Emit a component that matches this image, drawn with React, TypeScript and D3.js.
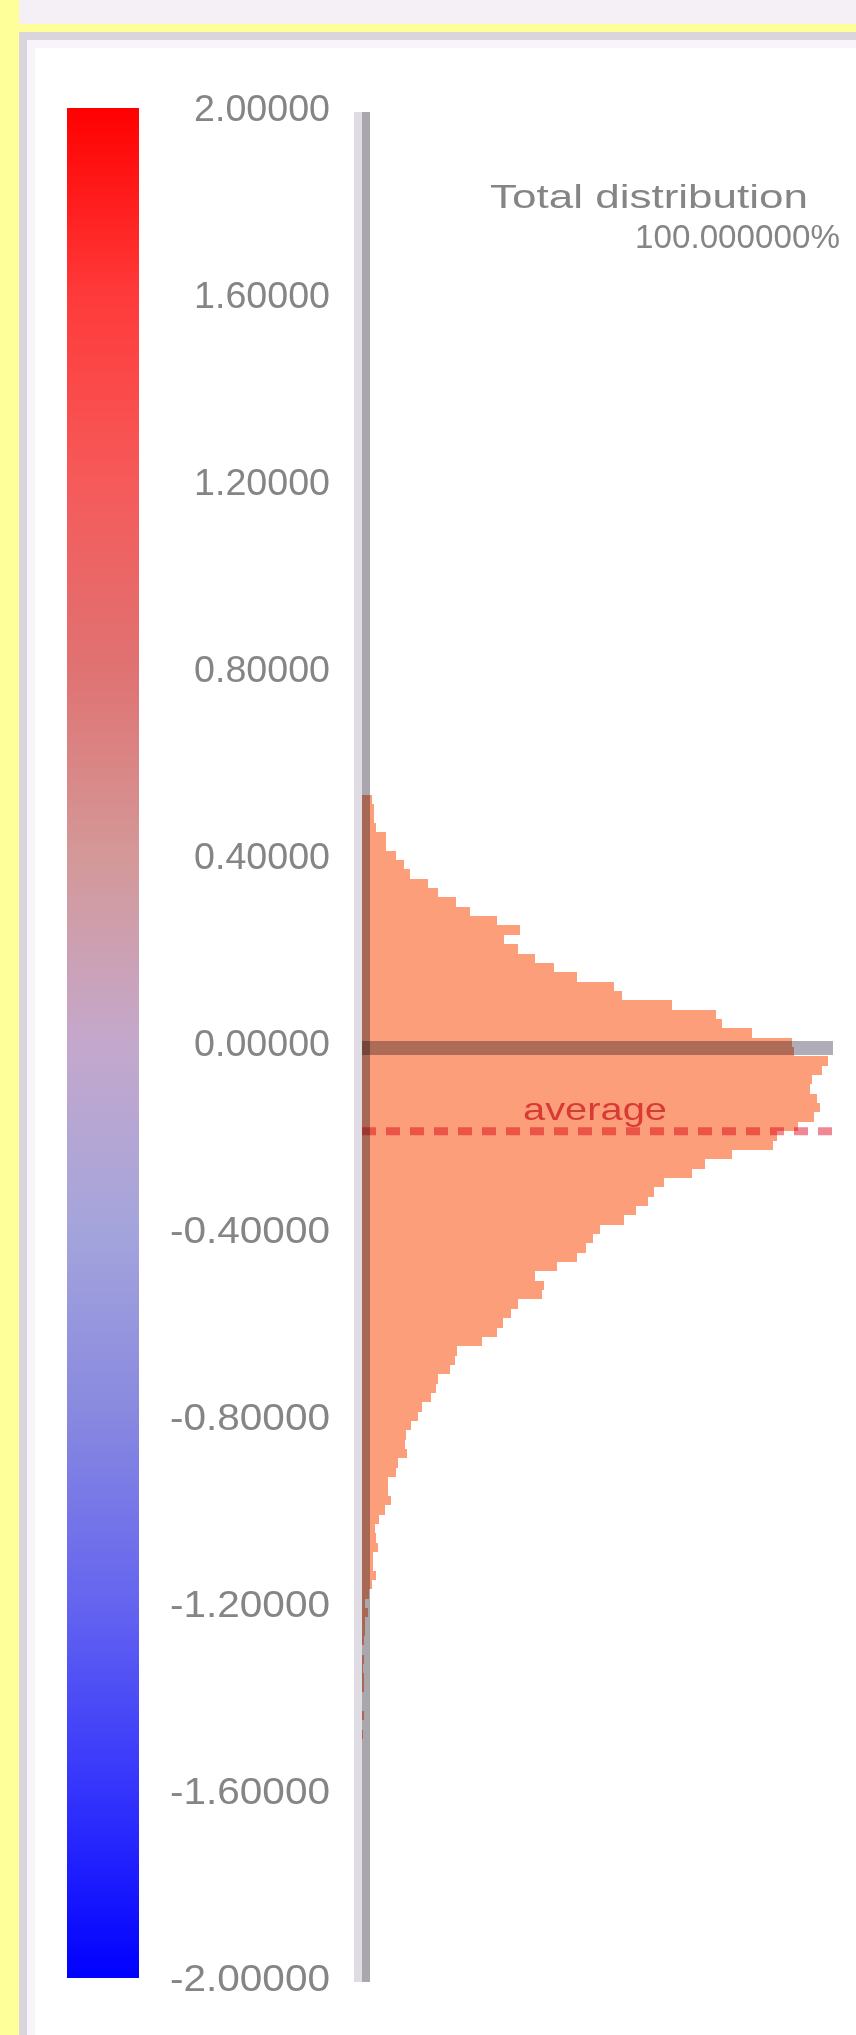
import React from 'react'
import * as d3 from 'd3'

// colour bar ticks (value axis, top to bottom)
const tickValues = [2, 1.6, 1.2, 0.8, 0.4, 0, -0.4, -0.8, -1.2, -1.6, -2]
// colour bar stops
const stopValues = [2, 1.6, 1.2, 0.8, 0.4, 0, -0.4, -0.8, -1.2, -1.6, -2]
const stopColors = ['#ff0000', '#ff3a3a', '#f65a5a', '#e07272', '#d49898', '#c4a8cc', '#a4a4dc', '#8888e0', '#6464f0', '#3434fc', '#0000ff']

// histogram: bins of 0.02, first bin tops at 0.54
const binStart = 0.54
const binWidth = 0.02
const binCounts = [
  10, 12, 12, 14, 24, 24, 34, 42, 48, 66,
  76, 94, 108, 135, 158, 142, 156, 173, 192, 215,
  252, 260, 310, 354, 360, 390, 430, 432, 466, 460,
  450, 448, 455, 458, 452, 436, 415, 411, 370, 343,
  330, 302, 292, 286, 274, 262, 238, 231, 224, 215,
  195, 173, 182, 180, 156, 149, 141, 135, 120, 95,
  93, 88, 76, 74, 69, 60, 56, 49, 44, 43,
  45, 36, 34, 26, 26, 29, 23, 17, 13, 14,
  16, 11, 11, 14, 10, 7, 3, 6, 3, 3,
  2, 0, 2, 1, 2, 2, 0, 0, 2, 0,
  1,
]
const averageValue = -0.18
const titleText = 'Total distribution'
const percentText = '100.000000%'

const W = 856
const H = 2035

function App() {
  const y = d3.scaleLinear().domain([-2, 2]).range([1982, 112])
  const axisX = 362
  const x = d3.scaleLinear().domain([0, 470]).range([axisX, 832])
  const fmt = d3.formatLocale({ decimal: '.', thousands: ',', grouping: [3], currency: ['', ''], minus: '-' }).format('.5f')

  const bins = binCounts.map((c, i) => {
    const hi = binStart - i * binWidth
    return { hi, lo: hi - binWidth, c }
  })

  const labelFont = "'Liberation Sans', Arial, sans-serif"

  return (
    <svg width={W} height={H} style={{ position: 'absolute', left: 0, top: 0 }} fontFamily={labelFont}>
      <defs>
        <linearGradient id="cbar" x1="0" y1="0" x2="0" y2="1">
          {stopValues.map((v, i) => (
            <stop key={i} offset={(2 - v) / 4} stopColor={stopColors[i]} />
          ))}
        </linearGradient>
      </defs>
      <rect width={W} height={H} fill="#fff" />

      {/* window frame */}
      <rect x={0} y={0} width={W} height={24} fill="#f4f0f5" />
      <rect x={0} y={24} width={W} height={8} fill="#ffff99" />
      <rect x={0} y={0} width={19} height={H} fill="#ffff99" />
      <rect x={19} y={32} width={W} height={8} fill="#d9d5dd" />
      <rect x={19} y={40} width={W} height={8} fill="#f8f4fa" />
      <rect x={19} y={32} width={8} height={H} fill="#d9d5dd" />
      <rect x={27} y={40} width={8} height={H} fill="#f8f4fa" />

      {/* colour bar */}
      <rect x={67} y={y(2) - 4} width={72} height={y(-2) - y(2)} fill="url(#cbar)" />
      <g fill="#858585" fontSize={36}>
        {tickValues.map(v => {
          const t = fmt(v)
          return (
            <text key={v} x={330} y={y(v) - 4} dy="0.36em" textAnchor="end"
              textLength={t.startsWith('-') ? 160 : 136} lengthAdjust="spacingAndGlyphs">{t}</text>
          )
        })}
      </g>

      {/* histogram */}
      <g shapeRendering="crispEdges">
        {bins.map((b, i) => (
          <rect key={i} x={axisX} y={y(b.hi)} width={x(b.c) - axisX} height={y(b.lo) - y(b.hi)} fill="#fc9e7a" />
        ))}
      </g>

      {/* value axis */}
      <rect x={354} y={y(2)} width={8} height={y(-2) - y(2)} fill="#e0dce4" style={{ mixBlendMode: 'multiply' }} />
      <rect x={362} y={y(2)} width={8} height={y(-2) - y(2)} fill="#aaa6ae" style={{ mixBlendMode: 'multiply' }} />

      {/* zero line */}
      <line x1={axisX} x2={833} y1={y(0) + 1} y2={y(0) + 1} stroke="#b0acb8" strokeWidth={14} style={{ mixBlendMode: 'multiply' }} />

      {/* average */}
      <line x1={axisX} x2={840} y1={y(averageValue)} y2={y(averageValue)} stroke="#ee8894" strokeWidth={8}
        strokeDasharray="14 10" style={{ mixBlendMode: 'multiply' }} />
      <text x={595} y={y(averageValue) - 23} dy="0.36em" textAnchor="middle" fill="#d83a35" fontSize={32}
        textLength={144} lengthAdjust="spacingAndGlyphs">average</text>

      {/* title */}
      <text x={490} y={196} dy="0.36em" fill="#858585" fontSize={34} textLength={318} lengthAdjust="spacingAndGlyphs">{titleText}</text>
      <text x={635} y={236} dy="0.36em" fill="#858585" fontSize={34} textLength={205} lengthAdjust="spacingAndGlyphs">{percentText}</text>
    </svg>
  )
}

export default App
